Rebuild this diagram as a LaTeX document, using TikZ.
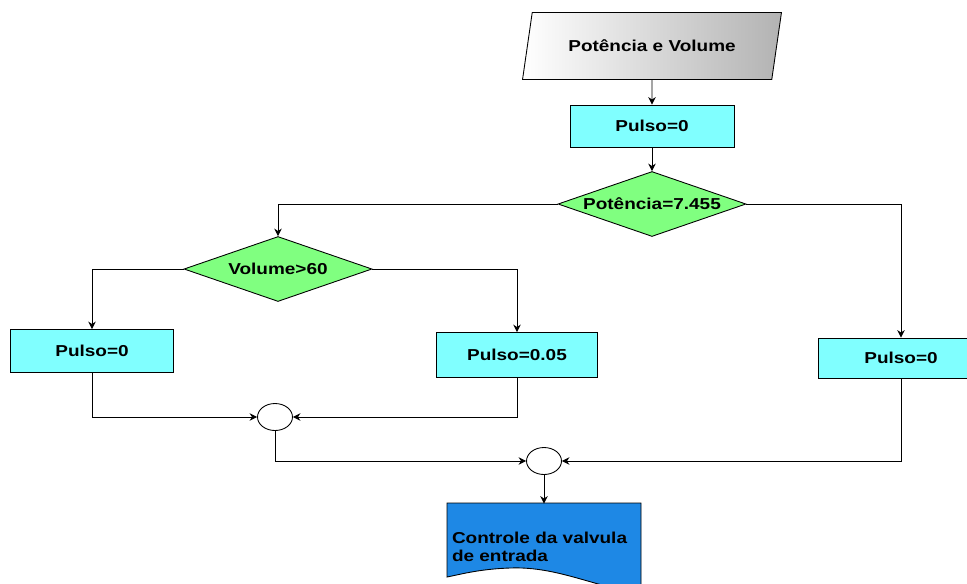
\documentclass[tikz,border=0pt]{standalone}
\usepackage{fontspec}
\setmainfont{Liberation Sans}[FakeStretch=1.2]
\usetikzlibrary{shapes.geometric,arrows.meta}

\definecolor{boxcyan}{RGB}{128,255,255}
\definecolor{testgreen}{RGB}{128,255,128}
\definecolor{docblue}{RGB}{30,136,229}

\tikzset{
  every node/.style={font=\fontsize{9}{10}\selectfont\bfseries},
  pulso/.style={rectangle, draw=black, fill=boxcyan, minimum height=0.84cm},
  teste/.style={diamond, draw=black, fill=testgreen, aspect=2.9,
    inner sep=0pt, minimum width=3.76cm, minimum height=1.3cm},
  junta/.style={ellipse, draw=black, fill=white, inner sep=0pt,
    minimum width=0.7cm, minimum height=0.54cm},
  seta/.style={-{Stealth[length=1.5mm,width=1.5mm]}}
}

\begin{document}
\begin{tikzpicture}[x=0.02cm, y=-0.02cm, line width=0.5pt]

    \useasboundingbox (0,0) rectangle (967,583);

    \node[trapezium,
    trapezium left angle = 73,
    trapezium right angle = 107,
    trapezium stretches = true,
    draw = black,
    left color = white,
    right color = gray!60,
    minimum width = 5.18cm,
    minimum height = 1.34cm] (dados) at (652,46) {Potência e Volume};

    \node[pulso, minimum width=3.28cm] (pulso0) at (652,126) {Pulso=0};

    \node[teste] (pot) at (652,204) {Potência=7.455};
    \node[teste] (vol) at (278,269) {Volume>60};

    \node[pulso, minimum width=3.26cm, minimum height=0.86cm] (pulsoA) at (92,351) {Pulso=0};
    \node[pulso, minimum width=3.22cm, minimum height=0.9cm] (pulsoB) at (517,355) {Pulso=0.05};
    \node[pulso, minimum width=3.32cm, minimum height=0.8cm] (pulsoC) at (901,358) {Pulso=0};

    \node[junta] (j1) at (275,417) {};
    \node[junta] (j2) at (544,461) {};

    % saida: documento com borda ondulada
    \filldraw[fill=docblue, draw=black] (447,503) -- (641,503) -- (641,592)
      .. controls (600,590) and (560,566) .. (510,568)
      .. controls (480,569) and (462,574) .. (447,577) -- cycle;
    \node[text width=3.68cm, inner xsep=0.1cm, inner ysep=0pt,
    minimum height=1.72cm, align=left] (valvula) at (544,547)
      {Controle da valvula\\de entrada};

      \draw[seta] (dados) -- (pulso0);
      \draw[seta] (pulso0) -- (pot);
      \draw[seta] (pot.west) -| (vol.north);
      \draw[seta] (pot.east) -| (pulsoC.north);
      \draw[seta] (vol.west) -| (pulsoA.north);
      \draw[seta] (vol.east) -| (pulsoB.north);

      \draw[seta] (pulsoA.south) |- (j1.west);
      \draw[seta] (pulsoB.south) |- (j1.east);
      \draw[seta] (j1.south) |- (j2.west);
      \draw[seta] (pulsoC.south) |- (j2.east);
      \draw[seta] (j2) -- (valvula.north);
  \end{tikzpicture}
\end{document}
